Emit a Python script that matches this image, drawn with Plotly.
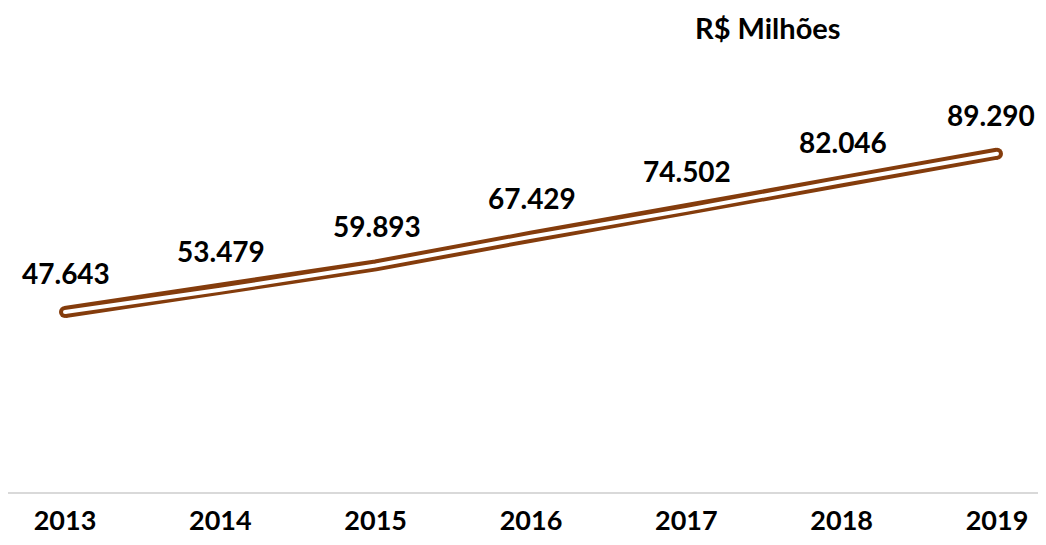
import plotly.graph_objects as go

years = [2013, 2014, 2015, 2016, 2017, 2018, 2019]
values = [47643, 53479, 59893, 67429, 74502, 82046, 89290]
labels = ["47.643", "53.479", "59.893", "67.429", "74.502", "82.046", "89.290"]
year_labels = ["2013", "2014", "2015", "2016", "2017", "2018", "2019"]

brown = "#843C0C"
font_family = "Lato, 'Open Sans', sans-serif"

end_sizes_outer = [12 if i in (0, len(years) - 1) else 0 for i in range(len(years))]
end_sizes_inner = [4 if i in (0, len(years) - 1) else 0 for i in range(len(years))]

fig = go.Figure()
fig.add_trace(go.Scatter(
    x=years, y=values, mode="lines+markers",
    line=dict(color=brown, width=12),
    marker=dict(color=brown, size=end_sizes_outer, opacity=1, line=dict(width=0)),
    hoverinfo="skip", showlegend=False, cliponaxis=False,
))
fig.add_trace(go.Scatter(
    x=years, y=values, mode="lines+markers",
    line=dict(color="white", width=4),
    marker=dict(color="white", size=end_sizes_inner, opacity=1, line=dict(width=0)),
    hoverinfo="skip", showlegend=False, cliponaxis=False,
))

for i, (yr, v, lab) in enumerate(zip(years, values, labels)):
    fig.add_annotation(
        x=yr, y=v, xref="x", yref="y", text=f"<b>{lab}</b>", showarrow=False,
        yshift=39, xshift=(-6 if i == len(years) - 1 else 1),
        xanchor="center", yanchor="middle",
        font=dict(family=font_family, size=28, color="black"),
    )

fig.add_annotation(
    xref="paper", yref="paper", x=760 / 1030, y=1.0, yshift=86,
    xanchor="center", yanchor="middle",
    text="<b>R$ Milhões</b>", showarrow=False,
    font=dict(family=font_family, size=29, color="black"),
)

fig.update_layout(
    width=1030, height=529,
    margin=dict(l=0, r=0, t=105, b=44, autoexpand=False),
    paper_bgcolor="white", plot_bgcolor="white",
    xaxis=dict(
        range=[2012.633, 2019.264],
        tickvals=years, ticktext=[f"<b>{t}</b>" for t in year_labels],
        showgrid=False, zeroline=False, automargin=False,
        showline=False, ticks="",
        tickfont=dict(family=font_family, size=27, color="black"),
        ticklabelstandoff=9,
    ),
    yaxis=dict(
        range=[0, 100000], showgrid=False, showticklabels=False,
        zeroline=True, zerolinecolor="#d9d9d9", zerolinewidth=2,
        showline=False, ticks="", automargin=False,
    ),
)

fig.write_html("out.html")
